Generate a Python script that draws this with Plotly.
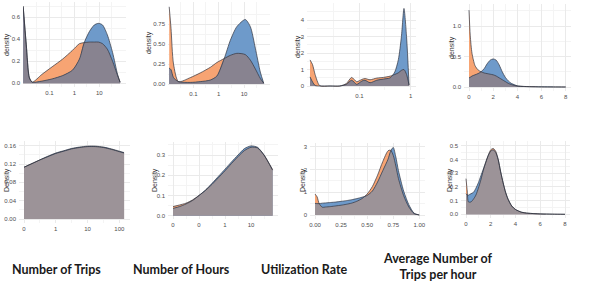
import numpy as np
import plotly.graph_objects as go

W, H = 606, 292

# ---------------- data ----------------
# Row 1, panel 1: Number of Trips (log x)
trips_x = [0.009, 0.012, 0.016, 0.021, 0.05, 0.13, 0.34, 0.85, 1.6, 2.5, 4.0, 6.3, 9.3, 13.5, 21, 34, 54, 68]
trips_orange = [0.70, 0.35, 0.05, 0.01, 0.08, 0.15, 0.22, 0.30, 0.36, 0.37, 0.375, 0.375, 0.375, 0.36, 0.31, 0.20, 0.07, 0.01]
trips_blue = [0.70, 0.35, 0.05, 0.01, 0.02, 0.04, 0.07, 0.12, 0.22, 0.37, 0.47, 0.53, 0.545, 0.53, 0.44, 0.28, 0.08, 0.01]

# Row 1, panel 2: Number of Hours (log x)
hours_x = [0.0112, 0.0132, 0.0166, 0.026, 0.076, 0.19, 0.47, 0.85, 1.66, 2.9, 5.2, 11.2, 17.8, 28, 44, 60]
hours_orange = [0.97, 0.70, 0.25, 0.03, 0.08, 0.14, 0.21, 0.27, 0.32, 0.36, 0.385, 0.37, 0.30, 0.19, 0.07, 0.01]
hours_blue = [0.20, 0.18, 0.08, 0.03, 0.02, 0.03, 0.05, 0.10, 0.32, 0.55, 0.72, 0.81, 0.72, 0.45, 0.15, 0.01]

# Row 1, panel 3: Utilization Rate (log x)
util_x = [0.011, 0.0123, 0.0138, 0.017, 0.027, 0.042, 0.056, 0.071, 0.089, 0.112, 0.129, 0.162, 0.219, 0.295, 0.40, 0.49, 0.575, 0.66, 0.74, 0.83, 0.93]
util_orange = [1.58, 1.30, 0.70, 0.02, 0.0, 0.0, 0.15, 0.52, 0.26, 0.40, 0.45, 0.38, 0.48, 0.52, 0.60, 0.70, 0.80, 0.95, 1.0, 0.70, 0.05]
util_blue = [0.55, 0.25, 0.03, 0.0, 0.0, 0.0, 0.10, 0.35, 0.10, 0.30, 0.35, 0.20, 0.35, 0.42, 0.50, 0.85, 1.6, 3.0, 4.7, 3.0, 0.05]

# Row 1, panel 4: Average Number of Trips per hour
avg_x = [0, 0.1, 0.25, 0.5, 0.75, 1.0, 1.25, 1.5, 1.75, 2.0, 2.25, 2.5, 2.75, 3.0, 3.25, 3.5, 4.0, 4.5, 5, 6, 7, 8]
avg_orange = [1.26, 0.85, 0.55, 0.35, 0.28, 0.25, 0.23, 0.22, 0.21, 0.20, 0.18, 0.15, 0.12, 0.09, 0.06, 0.04, 0.015, 0.008, 0.005, 0.002, 0.001, 0.0]
avg_blue = [0.15, 0.16, 0.18, 0.20, 0.22, 0.25, 0.30, 0.38, 0.44, 0.46, 0.44, 0.36, 0.25, 0.16, 0.10, 0.06, 0.02, 0.01, 0.006, 0.003, 0.001, 0.0]

# Row 2, panel 5: Number of Trips (pseudo-log position)
trips2_t = [0, 0.25, 0.5, 0.75, 1.0, 1.25, 1.5, 1.75, 2.0, 2.25, 2.5, 2.75, 3.0, 3.15]
trips2_orange = [0.113, 0.121, 0.129, 0.136, 0.143, 0.148, 0.153, 0.156, 0.158, 0.158, 0.156, 0.152, 0.147, 0.144]
trips2_blue = [0.113, 0.121, 0.129, 0.137, 0.144, 0.149, 0.154, 0.157, 0.159, 0.159, 0.157, 0.153, 0.148, 0.145]

# Row 2, panel 6: Number of Hours (pseudo-log position)
hours2_t = [0, 0.25, 0.5, 0.75, 1.0, 1.25, 1.5, 1.75, 2.0, 2.25, 2.5, 2.75, 3.0, 3.25, 3.5, 3.83]
hours2_orange = [0.045, 0.053, 0.062, 0.078, 0.100, 0.125, 0.155, 0.188, 0.222, 0.258, 0.292, 0.322, 0.338, 0.335, 0.300, 0.228]
hours2_blue = [0.036, 0.045, 0.058, 0.075, 0.100, 0.127, 0.160, 0.195, 0.230, 0.266, 0.300, 0.332, 0.345, 0.338, 0.300, 0.225]

# Row 2, panel 7: Utilization Rate
util2_x = [0, 0.02, 0.04, 0.07, 0.1, 0.15, 0.2, 0.25, 0.3, 0.35, 0.4, 0.45, 0.5, 0.55, 0.6, 0.65, 0.7, 0.725, 0.75, 0.775, 0.8, 0.85, 0.9, 0.95, 1.0]
util2_orange = [0.92, 0.80, 0.50, 0.34, 0.35, 0.37, 0.40, 0.43, 0.47, 0.52, 0.60, 0.72, 0.92, 1.25, 1.75, 2.35, 2.82, 2.85, 2.62, 2.15, 1.60, 0.85, 0.35, 0.06, 0.0]
util2_blue = [0.51, 0.50, 0.50, 0.52, 0.53, 0.55, 0.57, 0.60, 0.63, 0.67, 0.72, 0.78, 0.86, 1.05, 1.45, 1.95, 2.45, 2.80, 2.97, 2.55, 1.95, 1.05, 0.45, 0.08, 0.0]

# Row 2, panel 8: Average Number of Trips per hour
avg2_x = [0, 0.1, 0.2, 0.4, 0.6, 0.8, 1.0, 1.2, 1.4, 1.6, 1.8, 2.0, 2.2, 2.4, 2.6, 2.8, 3.0, 3.2, 3.4, 3.7, 4.0, 4.5, 5.0, 6.0, 7.0, 8.0]
avg2_orange = [0.26, 0.17, 0.09, 0.09, 0.11, 0.14, 0.19, 0.25, 0.32, 0.38, 0.43, 0.47, 0.48, 0.46, 0.40, 0.31, 0.23, 0.16, 0.11, 0.06, 0.035, 0.015, 0.008, 0.003, 0.001, 0.0]
avg2_blue = [0.15, 0.14, 0.14, 0.15, 0.16, 0.19, 0.23, 0.28, 0.33, 0.38, 0.43, 0.46, 0.47, 0.45, 0.40, 0.31, 0.23, 0.16, 0.11, 0.06, 0.035, 0.015, 0.008, 0.003, 0.001, 0.0]

# tick labels
log_ticks_1 = [0.1, 1, 10]
log_ticks_3 = [0.1, 1]
pseudo_ticks = [0, 1, 2, 3]
trips2_ticklabels = ["0", "1", "10", "100"]
hours2_ticklabels = ["0", "0", "1", "10"]
bottom_labels = ["Number of Trips", "Number of Hours", "Utilization Rate", "Average Number of<br>Trips per hour"]

# ---------------- styling ----------------
ORANGE = "#F7A473"
BLUE = "#6E9ACA"
OVER1 = "#888390"
OVER2 = "#9C9398"
LINE = "#30343F"
GRID = "#EAEAEA"
GRID_MINOR = "#F4F4F4"
TICKFONT = dict(family="Liberation Sans, Arial, sans-serif", size=6, color="#4D4D4D")


def lin_range(v1, p1, v2, p2, lo, hi):
    s = (v2 - v1) / (p2 - p1)
    a = v1 + (lo - p1) * s
    b = v1 + (hi - p1) * s
    return [min(a, b), max(a, b)]


panels = [
    dict(x=trips_x, o=trips_orange, b=trips_blue, over=OVER1, xlog=True,
         xref=(-1, 49.3, 1, 99.3), xpx=(23, 126), yref=(0, 83.3, 0.6, 17.3), ypx=(2, 87),
         xt=log_ticks_1, xtt=["0.1", "1", "10"], xminor=[0.0316, 0.316, 3.16, 31.6],
         yt=[0, 0.2, 0.4, 0.6], ytt=["0.0", "0.2", "0.4", "0.6"], yminor=[0.1, 0.3, 0.5, 0.7]),
    dict(x=hours_x, o=hours_orange, b=hours_blue, over=OVER1, xlog=True,
         xref=(-1, 193.3, 1, 244), xpx=(168, 270), yref=(0, 84, 0.75, 24.3), ypx=(2, 88),
         xt=log_ticks_1, xtt=["0.1", "1", "10"], xminor=[0.0316, 0.316, 3.16, 31.6],
         yt=[0, 0.25, 0.5, 0.75], ytt=["0.00", "0.25", "0.50", "0.75"], yminor=[0.125, 0.375, 0.625, 0.875]),
    dict(x=util_x, o=util_orange, b=util_blue, over=OVER1, xlog=True,
         xref=(-1, 359.3, 0, 410.7), xpx=(307, 416), yref=(0, 86, 4, 20), ypx=(3, 90),
         xt=log_ticks_3, xtt=["0.1", "1"], xminor=[0.0316, 0.316],
         yt=[0, 1, 2, 3, 4], ytt=["0", "1", "2", "3", "4"], yminor=[0.5, 1.5, 2.5, 3.5, 4.5]),
    dict(x=avg_x, o=avg_orange, b=avg_blue, over=OVER1, xlog=False,
         xref=(0, 469, 8, 565.7), xpx=(464, 571), yref=(0, 87, 1, 26), ypx=(4, 91),
         xt=[0, 2, 4, 6, 8], xtt=["0", "2", "4", "6", "8"], xminor=[1, 3, 5, 7],
         yt=[0, 0.5, 1.0], ytt=["0.0", "0.5", "1.0"], yminor=[0.25, 0.75, 1.25]),
    dict(x=trips2_t, o=trips2_orange, b=trips2_blue, over=OVER2, xlog=False,
         xref=(0, 24, 3, 119.3), xpx=(19, 130), yref=(0, 219, 0.16, 145.7), ypx=(141, 223),
         xt=pseudo_ticks, xtt=trips2_ticklabels, xminor=[0.5, 1.5, 2.5],
         yt=[0, 0.04, 0.08, 0.12, 0.16], ytt=["0.00", "0.04", "0.08", "0.12", "0.16"], yminor=[0.02, 0.06, 0.10, 0.14]),
    dict(x=hours2_t, o=hours2_orange, b=hours2_blue, over=OVER2, xlog=False,
         xref=(0, 173, 3, 251), xpx=(168, 278), yref=(0, 215.7, 0.3, 155), ypx=(142, 219),
         xt=pseudo_ticks, xtt=hours2_ticklabels, xminor=[0.5, 1.5, 2.5, 3.5],
         yt=[0, 0.1, 0.2, 0.3], ytt=["0.0", "0.1", "0.2", "0.3"], yminor=[0.05, 0.15, 0.25, 0.35]),
    dict(x=util2_x, o=util2_orange, b=util2_blue, over=OVER2, xlog=False,
         xref=(0, 315, 1, 419.3), xpx=(310, 425), yref=(0, 215, 3, 146.7), ypx=(143, 219),
         xt=[0, 0.25, 0.5, 0.75, 1.0], xtt=["0.00", "0.25", "0.50", "0.75", "1.00"], xminor=[0.125, 0.375, 0.625, 0.875],
         yt=[0, 1, 2, 3], ytt=["0", "1", "2", "3"], yminor=[0.5, 1.5, 2.5]),
    dict(x=avg2_x, o=avg2_orange, b=avg2_blue, over=OVER2, xlog=False,
         xref=(0, 466, 8, 565), xpx=(461, 570), yref=(0, 214.3, 0.5, 145.7), ypx=(141, 218),
         xt=[0, 2, 4, 6, 8], xtt=["0", "2", "4", "6", "8"], xminor=[1, 3, 5, 7],
         yt=[0, 0.1, 0.2, 0.3, 0.4, 0.5], ytt=["0.0", "0.1", "0.2", "0.3", "0.4", "0.5"], yminor=[0.05, 0.15, 0.25, 0.35, 0.45]),
]

fig = go.Figure()
layout = {}
SPL = dict(shape="spline", smoothing=0.7)

for i, p in enumerate(panels):
    n = i + 1
    xa = "x" if n == 1 else f"x{n}"
    ya = "y" if n == 1 else f"y{n}"
    xo = np.array(p["o"], dtype=float)
    xb = np.array(p["b"], dtype=float)
    ov = np.minimum(xo, xb)
    for yy, col in ((xo, ORANGE), (xb, BLUE), (ov, p["over"])):
        fig.add_trace(go.Scatter(x=p["x"], y=yy, mode="lines", fill="tozeroy",
                                 fillcolor=col, line=dict(width=0, **SPL),
                                 xaxis=xa, yaxis=ya, hoverinfo="skip", showlegend=False))
    for yy in (xo, xb):
        fig.add_trace(go.Scatter(x=p["x"], y=yy, mode="lines",
                                 line=dict(width=0.7, color=LINE, **SPL),
                                 xaxis=xa, yaxis=ya, hoverinfo="skip", showlegend=False))
    x1, px1, x2, px2 = p["xref"]
    xr = lin_range(x1, px1, x2, px2, p["xpx"][0], p["xpx"][1])
    y1, py1, y2, py2 = p["yref"]
    yr = lin_range(y1, py1, y2, py2, p["ypx"][0], p["ypx"][1])
    xkey = "xaxis" if n == 1 else f"xaxis{n}"
    ykey = "yaxis" if n == 1 else f"yaxis{n}"
    layout[xkey] = dict(
        domain=[p["xpx"][0] / W, p["xpx"][1] / W], anchor=ya, automargin=False,
        type="log" if p["xlog"] else "linear", range=xr,
        tickmode="array", tickvals=p["xt"], ticktext=p["xtt"],
        showgrid=True, gridcolor=GRID, gridwidth=0.6, zeroline=False, showline=False,
        ticks="", tickfont=TICKFONT, ticklabelstandoff=1,
        minor=dict(tickmode="array", tickvals=p["xminor"], showgrid=True, gridcolor=GRID_MINOR, gridwidth=0.5),
    )
    layout[ykey] = dict(
        domain=[1 - p["ypx"][1] / H, 1 - p["ypx"][0] / H], anchor=xa, automargin=False,
        range=yr, tickmode="array", tickvals=p["yt"], ticktext=p["ytt"],
        showgrid=True, gridcolor=GRID, gridwidth=0.6, zeroline=False, showline=False,
        ticks="", tickfont=TICKFONT, ticklabelstandoff=2,
        minor=dict(tickmode="array", tickvals=p["yminor"], showgrid=True, gridcolor=GRID_MINOR, gridwidth=0.5),
    )

annotations = []
ylab_pos = [(7, 45, "density"), (149, 43, "density"), (298, 47, "density"), (452, 48, "density"),
            (7, 180, "Density"), (155, 180, "Density"), (303, 180, "Density"), (450, 180, "Density")]
for xp, yp, t in ylab_pos:
    annotations.append(dict(x=xp / W, y=1 - yp / H, xref="paper", yref="paper", text=t, showarrow=False,
                            textangle=-90, font=dict(family="Liberation Sans, Arial, sans-serif", size=7, color="#333333"),
                            xanchor="center", yanchor="middle"))

label_pos = [(56, 269), (181.5, 269), (304, 269), (438, 266.5)]
for (xp, yp), t in zip(label_pos, bottom_labels):
    annotations.append(dict(x=xp / W, y=1 - yp / H, xref="paper", yref="paper", text=t, showarrow=False,
                            font=dict(family="Lato, sans-serif", size=12.5, color="#1a1a1a", weight="bold"),
                            xanchor="center", yanchor="middle", align="center"))

fig.update_layout(
    width=W, height=H, margin=dict(l=0, r=0, t=0, b=0, autoexpand=False),
    paper_bgcolor="white", plot_bgcolor="white",
    annotations=annotations, showlegend=False,
    **layout,
)

fig.write_html("out.html", config={"displayModeBar": False},
               post_script="document.body.style.margin='0';document.body.style.overflow='hidden';")
